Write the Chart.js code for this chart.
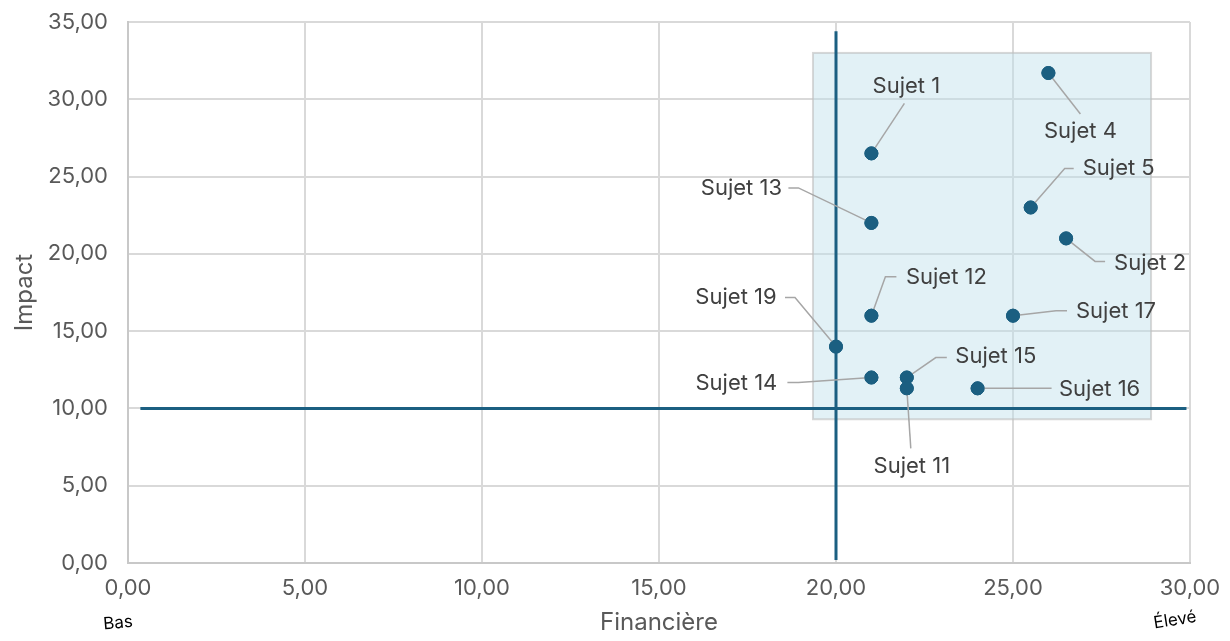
<!DOCTYPE html>
<html>
<head>
<meta charset="utf-8">
<script src="https://cdn.jsdelivr.net/npm/chart.js@4.4.1/dist/chart.umd.min.js"></script>
<style>
  html, body { margin: 0; padding: 0; background: #fff; }
  #wrap { width: 1230px; height: 641px; }
</style>
</head>
<body>
<div id="wrap"><canvas id="chart" width="1230" height="641"></canvas></div>
<script>
const subjects = ["Sujet 1", "Sujet 4", "Sujet 5", "Sujet 2", "Sujet 13", "Sujet 12", "Sujet 17", "Sujet 19", "Sujet 14", "Sujet 15", "Sujet 11", "Sujet 16"];
const financiere = [21, 26, 25.5, 26.5, 21, 21, 25, 20, 21, 22, 22, 24];
const impact = [26.5, 31.7, 23, 21, 22, 16, 16, 14, 12, 12, 11.3, 11.3];

// seuils de matérialité
const thresholdX = 20;
const thresholdY = 10;
const vLineY = [0.2, 34.4];
const hLineX = [0.35, 29.9];
// zone mise en évidence [xmin, xmax, ymin, ymax]
const zoneX = [19.35, 28.9];
const zoneY = [9.3, 33.0];

const xTicks = [0, 5, 10, 15, 20, 25, 30];
const yTicks = [0, 5, 10, 15, 20, 25, 30, 35];

// décalages des étiquettes (texte + ligne de rappel), en px depuis le point
const labelText = [[35,-67],[32,58],[88,-39],[84,25],[-130,-35],[75,-38],[103,-4],[-100,-49],[-135,6],[89,-21],[5,78],[122,1]];
const labelLeader = [
  [[33,-50]],
  [[32,41]],
  [[34,-39],[43,-39]],
  [[29,23],[39,23]],
  [[-73,-35],[-83,-35]],
  [[14,-39],[25,-39]],
  [[43,-5],[54,-5]],
  [[-41,-49],[-51,-49]],
  [[-73,5],[-84,5]],
  [[29,-20],[40,-20]],
  [[4,60]],
  [[74,0]]
];

const fmt = v => v.toFixed(2).replace(".", ",");
const FONT = "Inter, 'Noto Sans', sans-serif";
const dark = "#1b5f81";

const zonePlugin = {
  id: "zone",
  beforeDatasetsDraw(chart) {
    const { ctx, scales: { x, y } } = chart;
    const l = x.getPixelForValue(zoneX[0]), r = x.getPixelForValue(zoneX[1]);
    const t = y.getPixelForValue(zoneY[1]), b = y.getPixelForValue(zoneY[0]);
    ctx.save();
    ctx.fillStyle = "rgba(190,225,236,0.45)";
    ctx.fillRect(l, t, r - l, b - t);
    ctx.strokeStyle = "rgba(190,190,190,0.6)";
    ctx.lineWidth = 2;
    ctx.strokeRect(l, t, r - l, b - t);
    ctx.restore();
  }
};

const labelPlugin = {
  id: "labels",
  afterDatasetsDraw(chart) {
    const { ctx, scales: { x, y } } = chart;
    ctx.save();
    subjects.forEach((name, i) => {
      const px = x.getPixelForValue(financiere[i]);
      const py = y.getPixelForValue(impact[i]);
      ctx.strokeStyle = "#a6a6a6";
      ctx.lineWidth = 1.5;
      ctx.beginPath();
      ctx.moveTo(px, py);
      labelLeader[i].forEach(p => ctx.lineTo(px + p[0], py + p[1]));
      ctx.stroke();
      ctx.fillStyle = "#404040";
      ctx.font = "22px " + FONT;
      ctx.textAlign = "center";
      ctx.textBaseline = "middle";
      ctx.fillText(name, px + labelText[i][0], py + labelText[i][1]);
    });
    // points au-dessus des lignes de rappel
    chart.getDatasetMeta(2).data.forEach(pt => pt.draw(ctx));
    ctx.restore();
  },
  afterDraw(chart) {
    const { ctx, scales: { x } } = chart;
    ctx.save();
    ctx.fillStyle = "#000";
    ctx.font = "17px " + FONT;
    ctx.textAlign = "center";
    ctx.textBaseline = "middle";
    ctx.translate(x.getPixelForValue(0) - 10, 623);
    ctx.rotate(-5 * Math.PI / 180);
    ctx.fillText("Bas", 0, 0);
    ctx.restore();
    ctx.save();
    ctx.fillStyle = "#000";
    ctx.font = "17px " + FONT;
    ctx.textAlign = "center";
    ctx.textBaseline = "middle";
    ctx.translate(x.getPixelForValue(30) - 15, 620);
    ctx.rotate(-9 * Math.PI / 180);
    ctx.fillText("Élevé", 0, 0);
    ctx.restore();
  }
};

new Chart(document.getElementById("chart"), {
  type: "scatter",
  data: {
    datasets: [
      {
        type: "line",
        data: vLineY.map(v => ({ x: thresholdX, y: v })),
        borderColor: dark, borderWidth: 3, pointRadius: 0
      },
      {
        type: "line",
        data: hLineX.map(v => ({ x: v, y: thresholdY })),
        borderColor: dark, borderWidth: 3, pointRadius: 0
      },
      {
        data: financiere.map((v, i) => ({ x: v, y: impact[i] })),
        backgroundColor: dark, borderColor: dark,
        pointRadius: 6.5, pointHoverRadius: 6.5
      }
    ]
  },
  options: {
    responsive: false,
    animation: false,
    layout: { padding: { left: 0, right: 40, top: 22, bottom: 0 } },
    plugins: { legend: { display: false }, tooltip: { enabled: false } },
    scales: {
      x: {
        type: "linear", min: 0, max: 30,
        afterBuildTicks: s => { s.ticks = xTicks.map(v => ({ value: v })); },
        afterFit: s => { s.height = 78; s.paddingLeft = 0; s.paddingRight = 0; },
        grid: { color: "#d9d9d9", lineWidth: 2, drawTicks: false },
        border: { color: "#c8c8c8", width: 2 },
        ticks: { color: "#595959", font: { family: FONT, size: 22 }, padding: 12, callback: v => fmt(v) },
        title: { display: true, text: "Financière", color: "#595959", font: { family: FONT, size: 24 }, padding: { top: 8 } }
      },
      y: {
        type: "linear", min: 0, max: 35,
        afterBuildTicks: s => { s.ticks = yTicks.map(v => ({ value: v })); },
        afterFit: s => { s.width = 128; s.paddingTop = 0; s.paddingBottom = 0; },
        grid: { color: "#d9d9d9", lineWidth: 2, drawTicks: false },
        border: { color: "#c8c8c8", width: 2 },
        ticks: { color: "#595959", font: { family: FONT, size: 22 }, padding: 20, callback: v => fmt(v) },
        title: { display: true, text: "Impact", color: "#595959", font: { family: FONT, size: 24 }, padding: { top: 10, bottom: 0 } }
      }
    }
  },
  plugins: [zonePlugin, labelPlugin]
});
</script>
</body>
</html>
